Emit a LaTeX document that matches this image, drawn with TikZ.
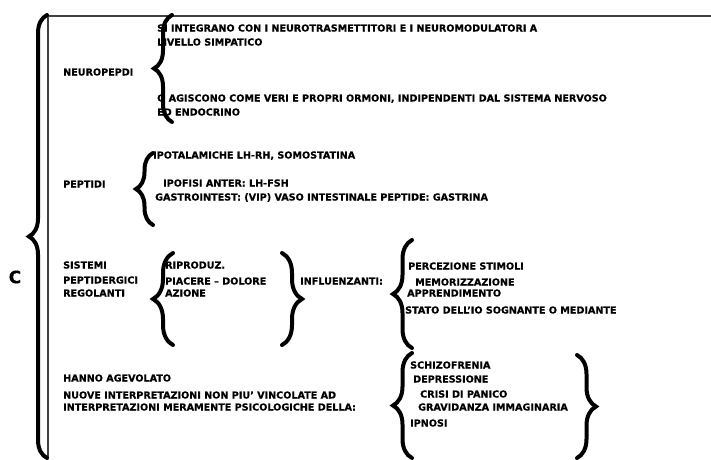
\documentclass[tikz,border=0pt]{standalone}
\usepackage{fontspec}
\setmainfont{DejaVu Sans}[BoldFeatures={FakeBold=0.5}]
\usetikzlibrary{decorations.pathreplacing}
\begin{document}
\begin{tikzpicture}[x=1pt,y=-1pt,
  t/.style={anchor=west,inner sep=0pt,font=\fontsize{9.6}{11}\selectfont\bfseries,text height=7pt,text depth=0pt},
  brc/.style={decorate,decoration={brace,amplitude=#1},line width=4pt,line cap=round},
  frame/.style={draw=black!75,line width=1.3pt}]
  \useasboundingbox (0,0) rectangle (711,459);
  % frame and main brace
  \draw[frame] (48,459) -- (48,16) -- (711,16);
  \draw[brc=18pt] (47,458) -- (47,15);
  \node[inner sep=0pt,font=\fontsize{17}{17}\selectfont\bfseries] (c) at (15,277) {C};
  % neuropepdi
  \node[t] (neuro) at (63,72) {NEUROPEPDI};
  \draw[brc=18pt] (172,122) -- (172,15);
  \node[t] (n1) at (157,28) {SI INTEGRANO CON I NEUROTRASMETTITORI E I NEUROMODULATORI A};
  \node[t] (n2) at (157,42) {LIVELLO SIMPATICO};
  \node[t] (n3) at (157,98) {O AGISCONO  COME VERI E PROPRI ORMONI, INDIPENDENTI DAL SISTEMA  NERVOSO};
  \node[t] (n4) at (157,112) {ED ENDOCRINO};
  % peptidi
  \node[t] (pept) at (63,184) {PEPTIDI};
  \draw[brc=17pt] (153,225) -- (153,153);
  \node[t] (p1) at (153,155) {IPOTALAMICHE LH-RH, SOMOSTATINA};
  \node[t] (p2) at (163,183) {IPOFISI ANTER: LH-FSH};
  \node[t] (p3) at (155,197) {GASTROINTEST: (VIP) VASO INTESTINALE PEPTIDE: GASTRINA};
  % sistemi peptidergici
  \node[t] (s1) at (63,265) {SISTEMI};
  \node[t] (s2) at (63,280) {PEPTIDERGICI};
  \node[t] (s3) at (63,293) {REGOLANTI};
  \draw[brc=20pt] (173,345) -- (173,253);
  \node[t] (r1) at (165,265) {RIPRODUZ.};
  \node[t] (r2) at (165,281) {PIACERE – DOLORE};
  \node[t] (r3) at (165,293) {AZIONE};
  \draw[brc=20pt] (282,253) -- (282,345);
  \node[t] (infl) at (300,281) {INFLUENZANTI:};
  \draw[brc=19pt] (412,348) -- (412,240);
  \node[t] (i1) at (408,266) {PERCEZIONE STIMOLI};
  \node[t] (i2) at (415,282) {MEMORIZZAZIONE};
  \node[t] (i3) at (407,293) {APPRENDIMENTO};
  \node[t] (i4) at (405,310) {STATO DELL'IO SOGNANTE O MEDIANTE};
  % hanno agevolato
  \node[t] (h1) at (63,378) {HANNO AGEVOLATO};
  \node[t] (h2) at (63,395) {NUOVE INTERPRETAZIONI NON PIU' VINCOLATE AD};
  \node[t] (h3) at (63,407) {INTERPRETAZIONI MERAMENTE PSICOLOGICHE DELLA:};
  \draw[brc=19pt] (412,458) -- (412,353);
  \node[t] (d1) at (410,365) {SCHIZOFRENIA};
  \node[t] (d2) at (413,379) {DEPRESSIONE};
  \node[t] (d3) at (420,394) {CRISI DI PANICO};
  \node[t] (d4) at (418,407) {GRAVIDANZA IMMAGINARIA};
  \node[t] (d5) at (410,423) {IPNOSI};
  \draw[brc=19pt] (577,355) -- (577,458);
\end{tikzpicture}
\end{document}
